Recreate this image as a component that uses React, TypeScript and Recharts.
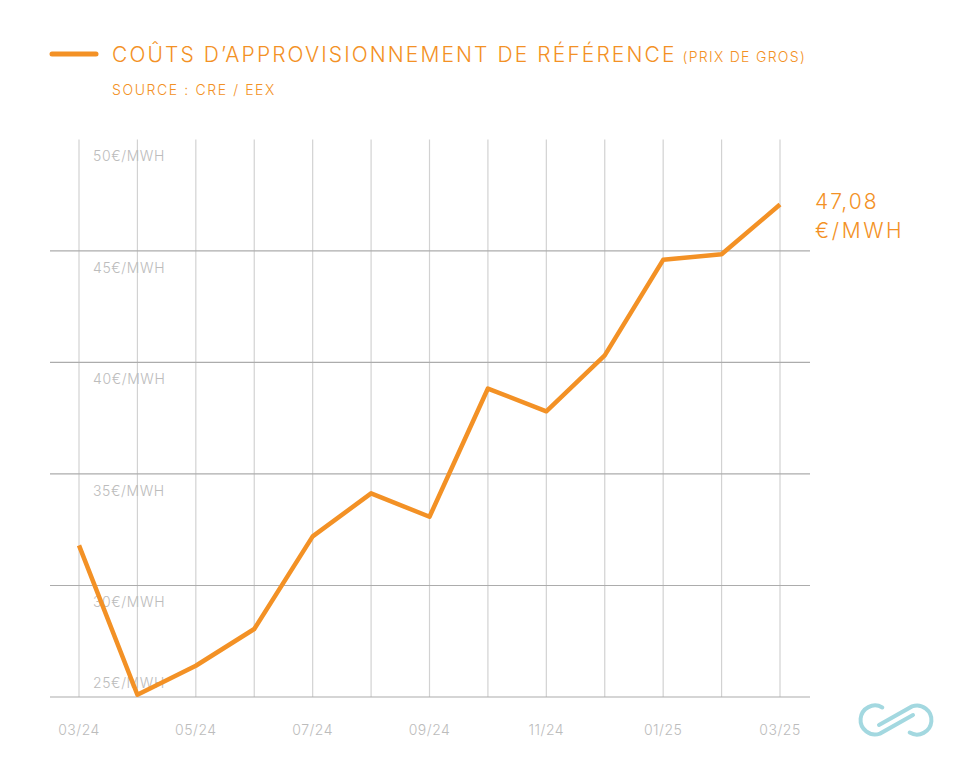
import React from 'react';
import { LineChart, Line, XAxis, YAxis, ReferenceLine } from 'recharts';

const months = ['03/24','04/24','05/24','06/24','07/24','08/24','09/24','10/24','11/24','12/24','01/25','02/25','03/25'];
const prices = [31.8, 25.1, 26.4, 28.05, 32.2, 34.13, 33.08, 38.83, 37.81, 40.32, 44.6, 44.85, 47.08];
const yTicks = [25, 30, 35, 40, 45, 50];
const lastLabel = ['47,08', '€/MWH'];

const data = months.map((m, i) => ({ month: m, price: prices[i] }));

const ORANGE = '#F39125';
const GREY_TXT = '#bcbcbc';
const FONT = 'Inter, Roboto, sans-serif';

const XTick = (props: any) => {
  const { x, y, payload, index } = props;
  if (index % 2 === 1) return null;
  return (
    <text x={x} y={y + 30} textAnchor="middle" fill={GREY_TXT} fontSize={14} fontFamily={FONT} fontWeight={300} letterSpacing={0.5}>
      {payload.value}
    </text>
  );
};

const makeYLabel = (v: number) => (props: any) => {
  const vb = props.viewBox || {};
  const dy = v === 25 ? -9 : 22;
  return (
    <text x={vb.x + 43} y={vb.y + dy} fill={GREY_TXT} fontSize={14} fontFamily={FONT} fontWeight={300} letterSpacing={0.6}>
      {`${v}€/MWH`}
    </text>
  );
};

const EndLabel = (props: any) => {
  const { x, y, index } = props;
  if (index !== prices.length - 1) return null;
  return (
    <g>
      <text x={x + 35} y={y + 4} fill={ORANGE} fontSize={21} fontFamily={FONT} fontWeight={300} letterSpacing={2}>{lastLabel[0]}</text>
      <text x={x + 35} y={y + 33} fill={ORANGE} fontSize={21} fontFamily={FONT} fontWeight={300} letterSpacing={2.6}>{lastLabel[1]}</text>
    </g>
  );
};

export default function App() {
  return (
    <div style={{ position: 'absolute', left: 0, top: 0, width: 960, height: 770, background: '#fff' }}>
      <svg width={960} height={120} style={{ position: 'absolute', left: 0, top: 0 }}>
        <line x1={52} y1={54} x2={96} y2={54} stroke={ORANGE} strokeWidth={5} strokeLinecap="round" />
        <text x={112} y={62} fill={ORANGE} fontFamily={FONT} fontWeight={300} fontSize={21} letterSpacing={2.1}>
          COÛTS D’APPROVISIONNEMENT DE RÉFÉRENCE
          <tspan fontSize={14} dx={6} letterSpacing={1.3}>(PRIX DE GROS)</tspan>
        </text>
        <text x={112} y={95} fill={ORANGE} fontFamily={FONT} fontWeight={300} fontSize={14} letterSpacing={1.6}>
          SOURCE : CRE / EEX
        </text>
      </svg>
      <div style={{ position: 'absolute', left: 0, top: 0 }}>
        <LineChart width={960} height={770} data={data} margin={{ top: 139.4, right: 150, bottom: 33, left: 50 }}>
          <XAxis dataKey="month" interval={0} padding={{ left: 29, right: 30 }} axisLine={false} tickLine={false} tick={<XTick />} height={40} />
          <YAxis domain={[25, 50]} ticks={yTicks} hide />
          {months.map((m) => (
            <ReferenceLine key={m} x={m} stroke="#d2d2d2" strokeWidth={1.2} />
          ))}
          {yTicks.map((g) => (
            <ReferenceLine key={g} y={g} stroke={g === 50 ? 'none' : '#acacac'} strokeWidth={1.2} label={makeYLabel(g)} />
          ))}
          <Line dataKey="price" stroke={ORANGE} strokeWidth={4.5} dot={false} isAnimationActive={false} label={<EndLabel />} strokeLinejoin="round" />
        </LineChart>
      </div>
      <svg width={960} height={770} style={{ position: 'absolute', left: 0, top: 0, pointerEvents: 'none' }}>
        <g fill="none" stroke="#a3d8e0" strokeWidth={4} strokeLinecap="round">
          <path d="M 882.3 707.4 A 14.5 14.5 0 1 0 880 733.6 L 913 715" />
          <path d="M 879 725 L 912 706.4 A 14.5 14.5 0 1 1 909.7 732.6" />
        </g>
      </svg>
    </div>
  );
}
